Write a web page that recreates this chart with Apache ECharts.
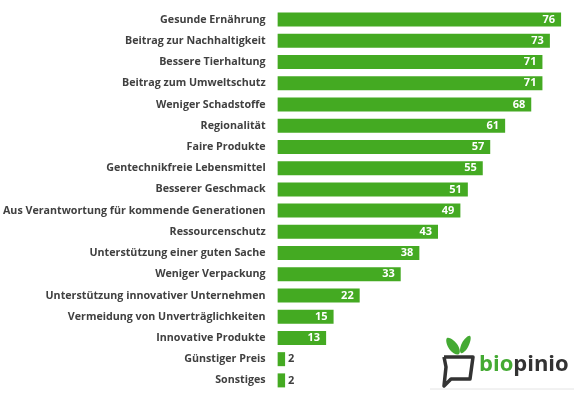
<!DOCTYPE html>
<html>
<head>
<meta charset="utf-8">
<script src="https://cdn.jsdelivr.net/npm/echarts@6/dist/echarts.min.js"></script>
<style>
  html, body { margin: 0; padding: 0; background: #fff; }
  #chart { width: 582px; height: 399px; }
</style>
</head>
<body>
<div id="chart"></div>
<script>
// Kategorien (von oben nach unten)
var categories = [
  'Gesunde Ernährung',
  'Beitrag zur Nachhaltigkeit',
  'Bessere Tierhaltung',
  'Beitrag zum Umweltschutz',
  'Weniger Schadstoffe',
  'Regionalität',
  'Faire Produkte',
  'Gentechnikfreie Lebensmittel',
  'Besserer Geschmack',
  'Aus Verantwortung für kommende Generationen',
  'Ressourcenschutz',
  'Unterstützung einer guten Sache',
  'Weniger Verpackung',
  'Unterstützung innovativer Unternehmen',
  'Vermeidung von Unverträglichkeiten',
  'Innovative Produkte',
  'Günstiger Preis',
  'Sonstiges'
];
// Werte in Prozent
var values = [76, 73, 71, 71, 68, 61, 57, 55, 51, 49, 43, 38, 33, 22, 15, 13, 2, 2];

var green = '#44aa22';
var textColor = '#404040';

// kleine Balken bekommen das Label außen
var barData = values.map(function (v) {
  if (v < 5) {
    return { value: v, label: { position: 'right', distance: 3, color: textColor } };
  }
  return v;
});

var chart = echarts.init(document.getElementById('chart'));
var option = {
  animation: false,
  grid: {
    left: 277,
    right: 6,
    top: 9,
    bottom: 8,
    containLabel: false
  },
  xAxis: {
    type: 'value',
    min: 0,
    max: 80,
    show: false
  },
  yAxis: {
    type: 'category',
    inverse: true,
    data: categories,
    axisLine: { show: false },
    axisTick: { show: false },
    axisLabel: {
      margin: 12,
      color: textColor,
      fontFamily: 'Open Sans',
      fontWeight: 'bold',
      fontSize: 10.7
    }
  },
  series: [
    {
      type: 'bar',
      data: barData,
      barWidth: 14,
      itemStyle: { color: green },
      label: {
        show: true,
        position: 'insideRight',
        distance: 6,
        color: '#fff',
        fontFamily: 'Open Sans',
        fontWeight: 'bold',
        fontSize: 11
      }
    }
  ],
  // biopinio Logo
  graphic: [
    {
      type: 'line',
      shape: { x1: 430, y1: 389, x2: 574, y2: 389 },
      style: { stroke: '#e4e4e4', lineWidth: 1 }
    },
    {
      type: 'polyline',
      shape: {
        points: [[444, 357], [473, 357], [470, 379], [451, 379], [444, 386], [446, 367], [444, 357]]
      },
      style: { stroke: '#333', lineWidth: 3.5, fill: null, lineJoin: 'round' }
    },
    {
      type: 'polygon',
      shape: {
        points: [[447, 338], [457, 344], [459, 354], [450, 350]],
        smooth: 0.5
      },
      style: { fill: '#44aa33' }
    },
    {
      type: 'polygon',
      shape: {
        points: [[470, 336], [468, 347], [461, 353], [462, 343]],
        smooth: 0.5
      },
      style: { fill: '#44aa33' }
    },
    {
      type: 'text',
      left: 479,
      top: 354,
      style: {
        text: '{g|bio}{d|pinio}',
        rich: {
          g: { fill: '#44aa33', fontFamily: 'Open Sans', fontWeight: 'bold', fontSize: 22 },
          d: { fill: '#333', fontFamily: 'Open Sans', fontWeight: 'bold', fontSize: 22 }
        }
      }
    }
  ]
};
chart.setOption(option);
</script>
</body>
</html>
